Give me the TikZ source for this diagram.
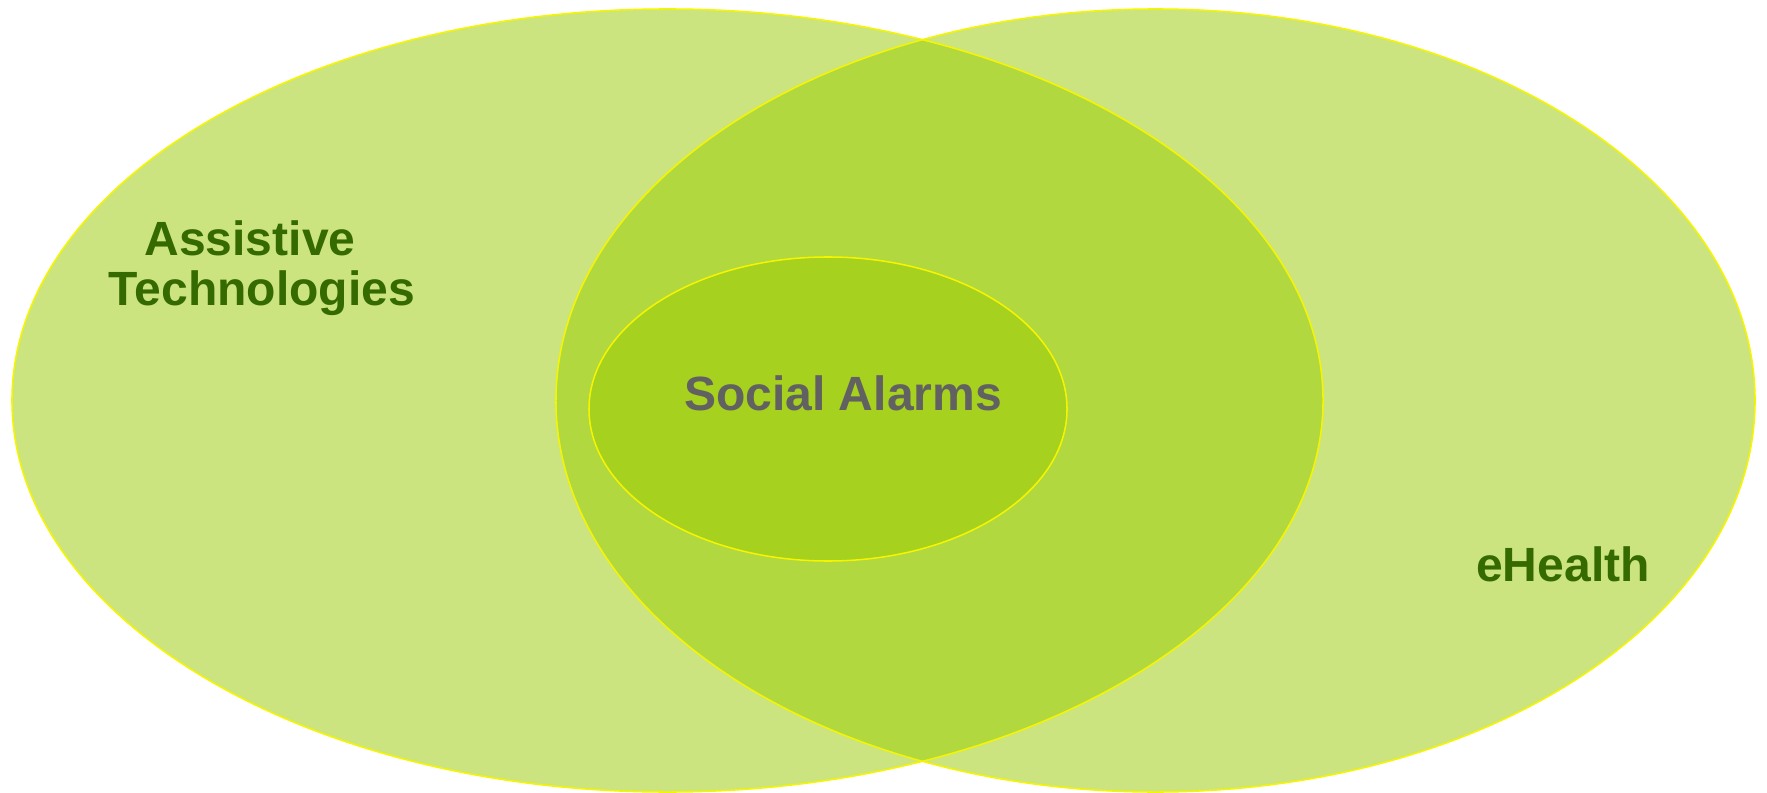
\documentclass[tikz,border=0pt]{standalone}
\usepackage{fontspec}
\setmainfont{Liberation Sans}
\usetikzlibrary{shapes.geometric}
\definecolor{lightg}{HTML}{CCE47F}
\definecolor{midg}{HTML}{B2D840}
\definecolor{innerg}{HTML}{A6D11F}
\definecolor{rimy}{HTML}{F5F500}
\definecolor{txtg}{HTML}{356A00}
\definecolor{txtgray}{HTML}{616161}
\tikzset{
  rim/.style={draw=rimy, line width=1.3pt, ellipse, inner sep=0pt},
  lbl/.style={font=\bfseries\fontsize{41}{43}\selectfont, inner sep=0pt, anchor=base},
}
\begin{document}
\begin{tikzpicture}[x=0.03cm,y=-0.03cm]
\useasboundingbox (0,0) rectangle (1767,793);
\fill[white] (0,0) rectangle (1767,793);
% fills
\fill[lightg] (667.5,400.5) ellipse [x radius=655.5, y radius=391.5];
\fill[lightg] (1155.5,400.5) ellipse [x radius=599.5, y radius=391.5];
\begin{scope}
  \clip (667.5,400.5) ellipse [x radius=655.5, y radius=391.5];
  \fill[midg] (1155.5,400.5) ellipse [x radius=599.5, y radius=391.5];
\end{scope}
% outlines
\node[rim, minimum width=39.33cm, minimum height=23.49cm] (at) at (667.5,400.5) {};
\node[rim, minimum width=35.97cm, minimum height=23.49cm] (eh) at (1155.5,400.5) {};
\node[rim, fill=innerg, minimum width=14.34cm, minimum height=9.12cm] (sa) at (828,409) {};
% labels
\node[lbl, text=txtg] (atl1) at (250,255) {Assistive};
\node[lbl, text=txtg] (atl2) at (262,305) {Technologies};
\node[lbl, text=txtgray] (sal) at (843,410) {Social Alarms};
\node[lbl, text=txtg] (ehl) at (1563,581) {eHealth};
\end{tikzpicture}
\end{document}
